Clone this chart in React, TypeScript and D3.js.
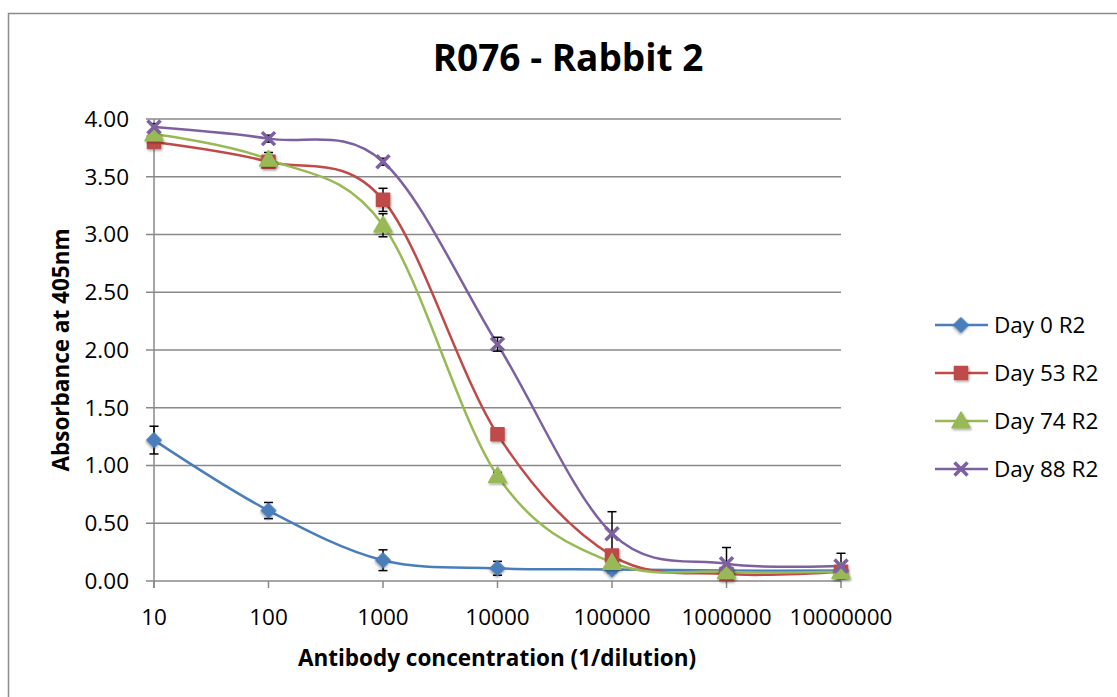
import { scaleLinear, scalePoint, line, curveCatmullRom, symbol, symbolSquare, symbolTriangle } from "d3";

const W = 1117;
const H = 697;
const M = { top: 119, left: 154, right: 276, bottom: 116 };

const categories = ["10", "100", "1000", "10000", "100000", "1000000", "10000000"];
const yTickValues = [0, 0.5, 1, 1.5, 2, 2.5, 3, 3.5, 4];

const day0 = [1.22, 0.61, 0.18, 0.11, 0.1, 0.09, 0.09];
const day0Err = [0.12, 0.07, 0.09, 0.06, 0.03, 0.02, 0.02];
const day53 = [3.8, 3.63, 3.3, 1.27, 0.22, 0.06, 0.08];
const day53Err = [0.03, 0.03, 0.1, 0.03, 0.04, 0.02, 0.02];
const day74 = [3.87, 3.65, 3.08, 0.91, 0.16, 0.08, 0.08];
const day74Err = [0.03, 0.06, 0.1, 0.03, 0.03, 0.02, 0.02];
const day88 = [3.93, 3.83, 3.63, 2.05, 0.41, 0.15, 0.13];
const day88Err = [0.03, 0.03, 0.03, 0.06, 0.19, 0.14, 0.11];

const series = [
  { name: "Day 0 R2", values: day0, err: day0Err, color: "#4a7ebb", marker: "diamond" },
  { name: "Day 53 R2", values: day53, err: day53Err, color: "#be4b48", marker: "square" },
  { name: "Day 74 R2", values: day74, err: day74Err, color: "#98b954", marker: "triangle" },
  { name: "Day 88 R2", values: day88, err: day88Err, color: "#7d60a0", marker: "cross" },
];

const FONT = "'Open Sans', Lato, sans-serif";
const FS = 22.5;

function Marker({ kind, color, x, y }: { kind: string; color: string; x: number; y: number }) {
  if (kind === "cross") {
    const r = 6.5;
    return (
      <g transform={`translate(${x},${y})`} stroke={color} strokeWidth={3.5} strokeLinecap="butt">
        <line x1={-r} y1={-r} x2={r} y2={r} />
        <line x1={-r} y1={r} x2={r} y2={-r} />
      </g>
    );
  }
  const type = kind === "triangle" ? symbolTriangle : symbolSquare;
  const size = kind === "diamond" ? 105 : kind === "square" ? 170 : 140;
  const d = symbol().type(type).size(size)() ?? "";
  const rot = kind === "diamond" ? " rotate(45)" : "";
  return (
    <path
      d={d}
      transform={`translate(${x},${y + (kind === "triangle" ? 1.5 : 0)})${rot}`}
      fill={color}
      stroke={color}
      strokeWidth={1.5}
      strokeLinejoin="round"
      filter="url(#mshadow)"
    />
  );
}

export default function App() {
  const x = scalePoint<string>().domain(categories).range([M.left, W - M.right]);
  const y = scaleLinear().domain([0, 4]).range([H - M.bottom, M.top]);
  const mk = (vals: number[]) =>
    line<number>()
      .x((_, i) => x(categories[i]) ?? 0)
      .y((v) => y(v))
      .curve(curveCatmullRom.alpha(0))(vals) ?? "";

  const bottom = y(0);

  return (
    <svg width={W} height={H} style={{ position: "absolute", left: 0, top: 0 }} fontFamily={FONT}>
      <defs>
        <filter id="mshadow" x="-50%" y="-50%" width="200%" height="200%">
          <feDropShadow dx="1" dy="1.5" stdDeviation="1.2" floodColor="#000" floodOpacity="0.35" />
        </filter>
      </defs>
      <rect x={0} y={0} width={W} height={H} fill="#fff" />
      <rect x={8.5} y={13.5} width={W + 20} height={H + 20} fill="none" stroke="#8c8c8c" strokeWidth={1.5} />

      <text x={568} y={71} textAnchor="middle" fontSize={37} fontWeight="bold" fill="#000">
        R076 - Rabbit 2
      </text>

      {yTickValues.map((t) => (
        <g key={`y${t}`}>
          <line x1={M.left - 8} x2={W - M.right} y1={y(t)} y2={y(t)} stroke="#888" strokeWidth={1.5} />
          <text x={129} y={y(t)} dy="0.35em" textAnchor="end" fontSize={FS} fill="#000">
            {t.toFixed(2)}
          </text>
        </g>
      ))}
      <line x1={M.left} x2={M.left} y1={M.top} y2={bottom + 7} stroke="#888" strokeWidth={1.5} />
      {categories.map((c) => (
        <g key={c}>
          <line x1={x(c)} x2={x(c)} y1={bottom} y2={bottom + 7} stroke="#888" strokeWidth={1.5} />
          <text x={x(c)} y={617} dy="0.35em" textAnchor="middle" fontSize={FS} fill="#000">
            {c}
          </text>
        </g>
      ))}

      <text x={497} y={666} textAnchor="middle" fontSize={FS} fontWeight="bold" fill="#000">
        Antibody concentration (1/dilution)
      </text>
      <text
        transform={`translate(69,${(M.top + bottom) / 2}) rotate(-90)`}
        textAnchor="middle"
        fontSize={FS}
        fontWeight="bold"
        fill="#000"
      >
        Absorbance at 405nm
      </text>

      {series.map((s) => (
        <path key={`l${s.name}`} d={mk(s.values)} fill="none" stroke={s.color} strokeWidth={2.5} />
      ))}
      {series.map((s) => (
        <g key={`e${s.name}`}>
          {s.values.map((v, i) => {
            const cx = x(categories[i]) ?? 0;
            const y1 = y(v + s.err[i]);
            const y2 = y(Math.max(0, v - s.err[i]));
            return (
              <g key={i} stroke="#000" strokeWidth={1.5}>
                <line x1={cx} x2={cx} y1={y1} y2={y2} />
                <line x1={cx - 4.5} x2={cx + 4.5} y1={y1} y2={y1} />
                <line x1={cx - 4.5} x2={cx + 4.5} y1={y2} y2={y2} />
              </g>
            );
          })}
        </g>
      ))}
      {series.map((s) => (
        <g key={`m${s.name}`}>
          {s.values.map((v, i) => (
            <Marker key={i} kind={s.marker} color={s.color} x={x(categories[i]) ?? 0} y={y(v)} />
          ))}
        </g>
      ))}

      {series.map((s, i) => {
        const ly = 325 + i * 48;
        return (
          <g key={`g${s.name}`}>
            <line x1={935} x2={988} y1={ly} y2={ly} stroke={s.color} strokeWidth={2.5} />
            <Marker kind={s.marker} color={s.color} x={961} y={ly} />
            <text x={994} y={ly} dy="0.35em" fontSize={FS} fill="#000">
              {s.name}
            </text>
          </g>
        );
      })}
    </svg>
  );
}
